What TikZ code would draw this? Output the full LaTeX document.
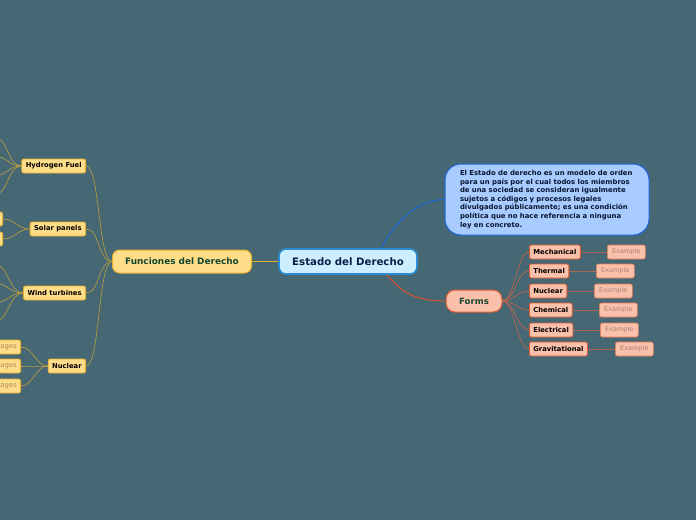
\documentclass[tikz,border=0pt]{standalone}
\usepackage{fontspec}
\setmainfont{DejaVu Sans}
\usetikzlibrary{calc}
\definecolor{bgc}{RGB}{70,103,116}
\definecolor{yfill}{RGB}{255,221,136}
\definecolor{ydraw}{RGB}{232,176,48}
\definecolor{yline}{RGB}{190,160,60}
\definecolor{cfill}{RGB}{204,238,255}
\definecolor{cdraw}{RGB}{40,140,210}
\definecolor{dfill}{RGB}{168,204,255}
\definecolor{ddraw}{RGB}{30,100,230}
\definecolor{bline}{RGB}{20,100,210}
\definecolor{sfill}{RGB}{250,192,170}
\definecolor{sdraw}{RGB}{224,90,50}
\definecolor{sline}{RGB}{220,80,40}
\definecolor{scline}{RGB}{200,100,70}
\definecolor{exline}{RGB}{170,100,85}
\definecolor{extext}{RGB}{170,130,120}
\definecolor{ytext}{RGB}{170,140,90}
\definecolor{dgreen}{RGB}{20,70,50}
\definecolor{navy}{RGB}{10,30,70}
\tikzset{
  ysmall/.style={draw=ydraw, fill=yfill, rounded corners=2pt, line width=0.8pt,
    minimum height=14pt, inner xsep=4pt, inner ysep=0pt, font=\fontsize{6.8}{7.5}\selectfont\bfseries, text=black},
  yfaded/.style={ysmall, text=ytext, font=\fontsize{6.8}{7.5}\selectfont},
  ssmall/.style={draw=sdraw, fill=sfill, rounded corners=2pt, line width=0.8pt,
    minimum height=14pt, inner xsep=4pt, inner ysep=0pt, font=\fontsize{6.8}{7.5}\selectfont\bfseries, text=black},
  exbox/.style={draw=sdraw!70!sfill, fill=sfill, rounded corners=2pt, line width=0.6pt,
    minimum height=14pt, minimum width=38pt, inner xsep=3pt, inner ysep=0pt, font=\fontsize{6.5}{7}\selectfont, text=extext},
  yconn/.style={draw=yline, line width=0.6pt},
  sconn/.style={draw=scline, line width=0.6pt},
  exconn/.style={draw=exline, line width=0.8pt},
}
\begin{document}
\begin{tikzpicture}[x=1pt,y=-1pt]
\useasboundingbox[fill=bgc] (0,0) rectangle (696,520);

% central
\node[draw=cdraw, fill=cfill, line width=1.6pt, rounded corners=7pt, minimum width=138pt, minimum height=25pt,
  font=\fontsize{10.2}{12}\selectfont\bfseries, text=navy] (est) at (348,261.5) {Estado del Derecho};

% description
\node[draw=ddraw, fill=dfill, line width=1pt, rounded corners=16pt, minimum width=204pt, minimum height=71pt,
  text width=174pt, align=left, inner xsep=0pt, font=\fontsize{6.9}{8.6}\selectfont\bfseries, text=navy!70!black] (desc) at (547,199.5)
  {El Estado de derecho es un modelo de orden\\ para un país por el cual todos los miembros\\ de una sociedad se consideran igualmente\\ sujetos a códigos y procesos legales\\ divulgados públicamente; es una condición\\ política que no hace referencia a ninguna\\ ley en concreto.};

% Funciones
\node[draw=ydraw, fill=yfill, line width=1pt, rounded corners=7pt, minimum width=139pt, minimum height=23pt,
  font=\fontsize{8.9}{10}\selectfont\bfseries, text=dgreen] (fun) at (182,261.5) {Funciones del Derecho};

% Forms
\node[draw=sdraw, fill=sfill, line width=1pt, rounded corners=9pt, minimum width=56pt, minimum height=22pt,
  font=\fontsize{8.6}{10}\selectfont\bfseries, text=dgreen] (forms) at (474,301) {Forms};

% central connectors
\draw[draw=ydraw, line width=1.2pt] (est.west) -- (fun.east);
\draw[draw=bline, line width=1pt] ([xshift=33pt]est.north) .. controls +(12,-22) and +(-30,0) .. (desc.west);
\draw[draw=sline, line width=1pt] ([xshift=39pt]est.south) .. controls +(15,18) and +(-30,0) .. (forms.west);

% left children
\node[ysmall, anchor=east] (hyd) at (86,166) {Hydrogen Fuel};
\node[ysmall, anchor=east] (sol) at (86,229) {Solar panels};
\node[ysmall, anchor=east] (wind) at (86,293) {Wind turbines};
\node[ysmall, anchor=east] (nuc) at (86,366) {Nuclear};

\foreach \n in {hyd,sol,wind,nuc}
  \draw[yconn] (fun.west) .. controls +(-14,0) and +(14,0) .. (\n.east);

% hydrogen grandchildren (off page)
\coordinate (h1) at (-6,136.75);
\coordinate (h2) at (-6,156.25);
\coordinate (h3) at (-6,175.75);
\coordinate (h4) at (-6,195.25);
\foreach \c in {h1,h2,h3,h4}
  \draw[yconn] (hyd.west) .. controls +(-14,0) and +(14,0) .. (\c);

% solar grandchildren
\node[ysmall, anchor=east, minimum width=20pt] (s1) at (3,219) {};
\node[ysmall, anchor=east, minimum width=20pt] (s2) at (3,239) {};
\foreach \c in {s1,s2}
  \draw[yconn] (sol.west) .. controls +(-12,0) and +(12,0) .. (\c.east);

% wind grandchildren (off page)
\coordinate (w1) at (-6,263.75);
\coordinate (w2) at (-6,283.25);
\coordinate (w3) at (-6,302.75);
\coordinate (w4) at (-6,322.25);
\foreach \c in {w1,w2,w3,w4}
  \draw[yconn] (wind.west) .. controls +(-14,0) and +(14,0) .. (\c);

% nuclear grandchildren
\node[yfaded, anchor=east] (n1) at (21,347) {Advantages};
\node[yfaded, anchor=east] (n2) at (21,366) {Disadvantages};
\node[yfaded, anchor=east] (n3) at (21,386) {Usages};
\foreach \c in {n1,n2,n3}
  \draw[yconn] (nuc.west) .. controls +(-12,0) and +(12,0) .. (\c.east);

% forms children
\node[ssmall, anchor=west] (mec) at (529,252) {Mechanical};
\node[ssmall, anchor=west] (the) at (529,271) {Thermal};
\node[ssmall, anchor=west] (fnu) at (529,291) {Nuclear};
\node[ssmall, anchor=west] (che) at (529,310) {Chemical};
\node[ssmall, anchor=west] (ele) at (529,330) {Electrical};
\node[ssmall, anchor=west] (gra) at (529,349) {Gravitational};
\foreach \n in {mec,the,fnu,che,ele,gra}
  \draw[sconn] (forms.east) .. controls +(12,0) and +(-12,0) .. (\n.west);

% examples
\node[exbox, anchor=west] (e1) at (607,252) {Example};
\node[exbox, anchor=west] (e2) at (596,271) {Example};
\node[exbox, anchor=west] (e3) at (594,291) {Example};
\node[exbox, anchor=west] (e4) at (599,310) {Example};
\node[exbox, anchor=west] (e5) at (600,330) {Example};
\node[exbox, anchor=west] (e6) at (615,349) {Example};
\draw[exconn] (mec.east) -- (e1.west);
\draw[exconn] (the.east) -- (e2.west);
\draw[exconn] (fnu.east) -- (e3.west);
\draw[exconn] (che.east) -- (e4.west);
\draw[exconn] (ele.east) -- (e5.west);
\draw[exconn] (gra.east) -- (e6.west);
\end{tikzpicture}
\end{document}
